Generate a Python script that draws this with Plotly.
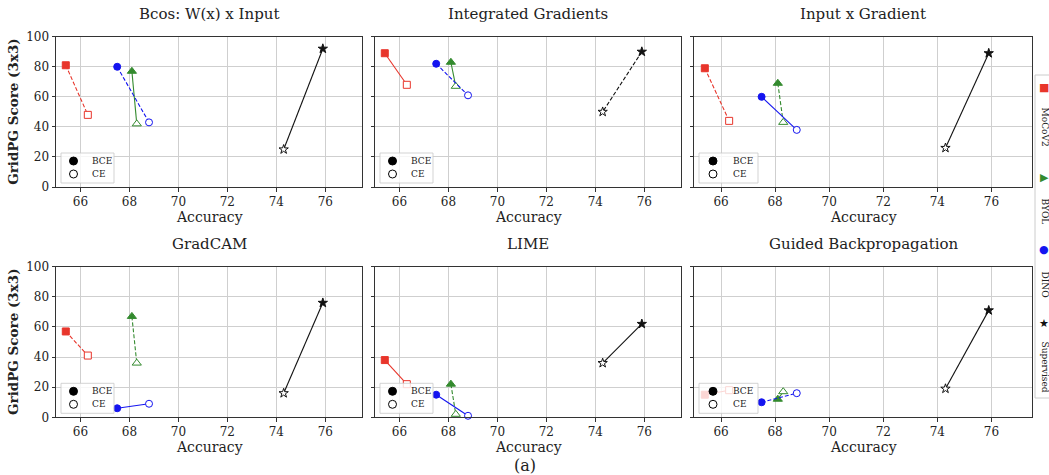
import plotly.graph_objects as go

# ---- data -------------------------------------------------------------
methods = ["MoCoV2", "BYOL", "DINO", "Supervised"]
colors = ["#e8352b", "#338a2e", "#1414f0", "#111111"]
symbols = ["square", "triangle-up", "circle", "star"]
marker_sizes = [7, 8, 7, 7]

# top-1 accuracy of each backbone, trained with BCE and with CE
acc_bce = [65.4, 68.1, 67.5, 75.9]
acc_ce = [66.3, 68.3, 68.8, 74.3]

panel_titles = ["Bcos: W(x) x Input", "Integrated Gradients", "Input x Gradient",
                "GradCAM", "LIME", "Guided Backpropagation"]

# GridPG scores per explanation method, ordered as in `methods`
bcos_bce = [81, 77, 80, 92]
bcos_ce = [48, 42, 43, 25]
ig_bce = [89, 83, 82, 90]
ig_ce = [68, 67, 61, 50]
ixg_bce = [79, 69, 60, 89]
ixg_ce = [44, 43, 38, 26]
gradcam_bce = [57, 67, 6, 76]
gradcam_ce = [41, 36, 9, 16]
lime_bce = [38, 22, 15, 62]
lime_ce = [22, 2, 1, 36]
gbp_bce = [15, 12, 10, 71]
gbp_ce = [18, 17, 16, 19]

# line style of each method's BCE -> CE connector, per panel
bcos_dash = ["dash", "solid", "dash", "solid"]
ig_dash = ["solid", "solid", "dash", "dash"]
ixg_dash = ["dash", "dash", "solid", "solid"]
gradcam_dash = ["dash", "dash", "solid", "solid"]
lime_dash = ["solid", "dash", "solid", "solid"]
gbp_dash = ["solid", "solid", "dash", "solid"]

panel_bce = [bcos_bce, ig_bce, ixg_bce, gradcam_bce, lime_bce, gbp_bce]
panel_ce = [bcos_ce, ig_ce, ixg_ce, gradcam_ce, lime_ce, gbp_ce]
panel_dash = [bcos_dash, ig_dash, ixg_dash, gradcam_dash, lime_dash, gbp_dash]

x_ticks = [66, 68, 70, 72, 74, 76]
y_ticks = [0, 20, 40, 60, 80, 100]

# ---- geometry (pixels) -------------------------------------------------
W, H = 1049, 475
cols = [(56, 362), (375, 681), (694, 1032)]
rows = [(36.7, 187), (266.7, 417.3)]
FONT = "DejaVu Serif"


def fx(p):
    return p / W


def fy(p):
    return 1 - p / H


def label(text, x, y, size, xanchor="center", angle=0, family=FONT, color="#222"):
    return dict(text=text, x=fx(x), y=fy(y), xref="paper", yref="paper",
                xanchor=xanchor, yanchor="middle", showarrow=False, textangle=angle,
                font=dict(family=family, size=size, color=color))


DASHES = {"solid": "solid", "dash": "4px,2px"}

fig = go.Figure()
shapes = []
annotations = []

for i in range(6):
    r, c = divmod(i, 3)
    L, R = cols[c]
    T, B = rows[r]
    ax = "" if i == 0 else str(i + 1)
    xa, ya = "x" + ax, "y" + ax

    for m in range(4):
        fig.add_trace(go.Scatter(
            x=[acc_bce[m], acc_ce[m]],
            y=[panel_bce[i][m], panel_ce[i][m]],
            mode="lines+markers",
            xaxis=xa, yaxis=ya,
            line=dict(color=colors[m], width=1.1, dash=DASHES[panel_dash[i][m]]),
            marker=dict(symbol=symbols[m], size=marker_sizes[m],
                        color=[colors[m], "white"],
                        line=dict(color=colors[m], width=1)),
            showlegend=False, cliponaxis=False, name=methods[m],
        ))

    common = dict(showline=True, mirror=True, linecolor="#333333", linewidth=1,
                  showgrid=True, gridcolor="#cfcfcf", gridwidth=1,
                  ticks="outside", ticklen=3.5, tickcolor="#333333",
                  zeroline=False, automargin=False,
                  tickfont=dict(family=FONT, size=12, color="#222"))
    fig.update_layout(**{
        ("xaxis" + ax): dict(domain=[fx(L), fx(R)], range=[65, 77.5],
                             tickvals=x_ticks, anchor=ya, **common),
        ("yaxis" + ax): dict(domain=[fy(B), fy(T)], range=[0, 100],
                             tickvals=y_ticks, anchor=xa,
                             showticklabels=(c == 0), **common),
    })

    # panel title and axis titles
    annotations.append(label(panel_titles[i], (L + R) / 2, T - 23, 15))
    annotations.append(label("Accuracy", (L + R) / 2, B + 29.5, 14))
    if c == 0:
        annotations.append(label("<b>GridPG Score (3x3)</b>", 13, (T + B) / 2,
                                 13.5, angle=-90))

    # BCE / CE marker legend in the lower-left corner
    wide = 64 if c == 2 else 58
    mk = 19 if c == 2 else 17.5
    tx = 37 if c == 2 else 34
    shapes.append(dict(type="rect", xref="paper", yref="paper", layer="above",
                       x0=fx(L + 5), x1=fx(L + wide), y0=fy(B - 4), y1=fy(B - 34),
                       fillcolor="rgba(255,255,255,0.8)",
                       line=dict(color="rgba(200,200,200,0.8)", width=1)))
    for yy, fill in [(B - 26, "black"), (B - 13, "white")]:
        shapes.append(dict(type="circle", xref="paper", yref="paper", layer="above",
                           xsizemode="pixel", ysizemode="pixel",
                           xanchor=fx(L + mk), yanchor=fy(yy),
                           x0=-4, x1=4, y0=-4, y1=4,
                           fillcolor=fill, line=dict(color="black", width=1)))
    for yy, txt in [(B - 26, "BCE"), (B - 13, "CE")]:
        annotations.append(label(txt, L + tx, yy, 9, xanchor="left"))

# rotated method legend on the right edge
shapes.append(dict(type="rect", xref="paper", yref="paper", layer="above",
                   x0=fx(1035), x1=fx(1052), y0=fy(75), y1=fy(398),
                   fillcolor="white", line=dict(color="#cccccc", width=1)))
glyphs = ["■", "▶", "●", "★"]
glyph_y = [88, 177, 249, 323]
label_y = [127, 211, 284, 367]
for m in range(4):
    annotations.append(label(glyphs[m], 1044, glyph_y[m], 11,
                             family="DejaVu Sans", color=colors[m]))
    annotations.append(label(methods[m], 1044.5, label_y[m], 9, angle=90))

annotations.append(label("(a)", 525, 465, 16))

fig.update_layout(width=W, height=H,
                  margin=dict(l=0, r=0, t=0, b=0, pad=0, autoexpand=False),
                  paper_bgcolor="white", plot_bgcolor="white",
                  shapes=shapes, annotations=annotations, showlegend=False)

fig.write_html("out.html")
